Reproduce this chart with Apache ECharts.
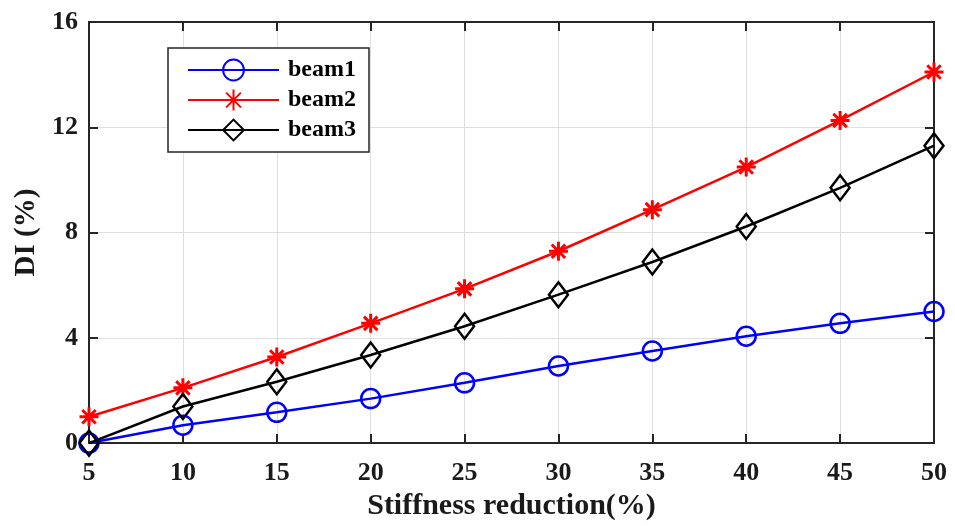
<!DOCTYPE html>
<html>
<head>
<meta charset="utf-8">
<script src="https://cdn.jsdelivr.net/npm/echarts@6/dist/echarts.min.js"></script>
<style>
html,body{margin:0;padding:0;background:#fff;}
#main{width:955px;height:526px;}
</style>
</head>
<body>
<div id="main"></div>
<script>
// stiffness reduction (%)
var categories = [5, 10, 15, 20, 25, 30, 35, 40, 45, 50];
var beam1 = [0, 0.68, 1.17, 1.69, 2.29, 2.93, 3.5, 4.06, 4.55, 5.0];
var beam2 = [1.0, 2.1, 3.27, 4.55, 5.86, 7.29, 8.87, 10.49, 12.26, 14.1];
var beam3 = [0, 1.39, 2.33, 3.35, 4.44, 5.64, 6.88, 8.23, 9.7, 11.3];
var yTicks = [0, 4, 8, 12, 16];

var fontFam = '"Liberation Serif", "Times New Roman", serif';
var axisColor = '#262626';
var textColor = '#1a1a1a';
// asterisk marker like matlab '*'
var starPath = 'path://M10,0L10,20M0,10L20,10M2.9,2.9L17.1,17.1M2.9,17.1L17.1,2.9';

function pairs(arr){
    var out = [];
    for(var i = 0; i < arr.length; i++){
        out.push([categories[i], arr[i]]);
    }
    return out;
}

var myChart = echarts.init(document.getElementById('main'));

var baseX = {
    type:'value',
    min:5,
    max:50,
    interval:5,
    axisLine:{show:true, onZero:false, lineStyle:{color:axisColor, width:2}},
    axisTick:{show:true, inside:true, length:9, lineStyle:{color:axisColor, width:2}},
    splitLine:{show:false}
};
var baseY = {
    type:'value',
    min:0,
    max:16,
    interval:4,
    axisLine:{show:true, onZero:false, lineStyle:{color:axisColor, width:2}},
    axisTick:{show:true, inside:true, length:9, lineStyle:{color:axisColor, width:2}},
    splitLine:{show:false}
};

var option = {
    backgroundColor:'#fff',
    animation:false,
    grid:{left:89, right:21, top:22, bottom:77, containLabel:false},
    legend:{
        left:168,
        top:48,
        orient:'vertical',
        padding:[10, 13, 10, 19],
        itemGap:6,
        itemWidth:91,
        itemHeight:26,
        borderColor:'#262626',
        borderWidth:1.5,
        backgroundColor:'#fff',
        textStyle:{fontFamily:fontFam, fontWeight:'bold', fontSize:24, lineHeight:24, color:'#000', padding:[0,0,0,4]},
        data:['beam1', 'beam2', 'beam3']
    },
    xAxis:[
        echarts.util.merge({
            position:'bottom',
            name:'Stiffness reduction(%)',
            nameLocation:'middle',
            nameGap:47,
            nameTextStyle:{fontFamily:fontFam, fontWeight:'bold', fontSize:30, color:textColor},
            axisLabel:{margin:17, fontFamily:fontFam, fontWeight:'bold', fontSize:26, color:textColor},
            splitLine:{show:true, lineStyle:{color:'#dedede', width:1}}
        }, baseX),
        echarts.util.merge({position:'top', axisLabel:{show:false}}, baseX)
    ],
    yAxis:[
        echarts.util.merge({
            position:'left',
            name:'DI (%)',
            nameLocation:'middle',
            nameGap:48,
            nameTextStyle:{fontFamily:fontFam, fontWeight:'bold', fontSize:29, color:textColor},
            axisLabel:{margin:11, fontFamily:fontFam, fontWeight:'bold', fontSize:26, color:textColor,
                formatter:function(v){ return yTicks.indexOf(v) >= 0 ? String(v) : ''; }},
            splitLine:{show:true, lineStyle:{color:'#dedede', width:1}}
        }, baseY),
        echarts.util.merge({position:'right', axisLabel:{show:false}}, baseY)
    ],
    series:[
        {
            name:'beam1',
            type:'line',
            data:pairs(beam1),
            symbol:'circle',
            symbolSize:19,
            z:3,
            lineStyle:{color:'#0000ff', width:2.5},
            itemStyle:{color:'rgba(255,255,255,0)', borderColor:'#0000ff', borderWidth:2.5}
        },
        {
            name:'beam2',
            type:'line',
            data:pairs(beam2),
            symbol:starPath,
            symbolSize:19,
            z:4,
            lineStyle:{color:'#ff0000', width:2.5},
            itemStyle:{color:'#ff0000', borderColor:'#ff0000', borderWidth:3}
        },
        {
            name:'beam3',
            type:'line',
            data:pairs(beam3),
            symbol:'diamond',
            symbolSize:[19, 25],
            z:5,
            lineStyle:{color:'#000', width:2.5},
            itemStyle:{color:'rgba(255,255,255,0)', borderColor:'#000', borderWidth:2.5}
        }
    ]
};
myChart.setOption(option);
</script>
</body>
</html>
